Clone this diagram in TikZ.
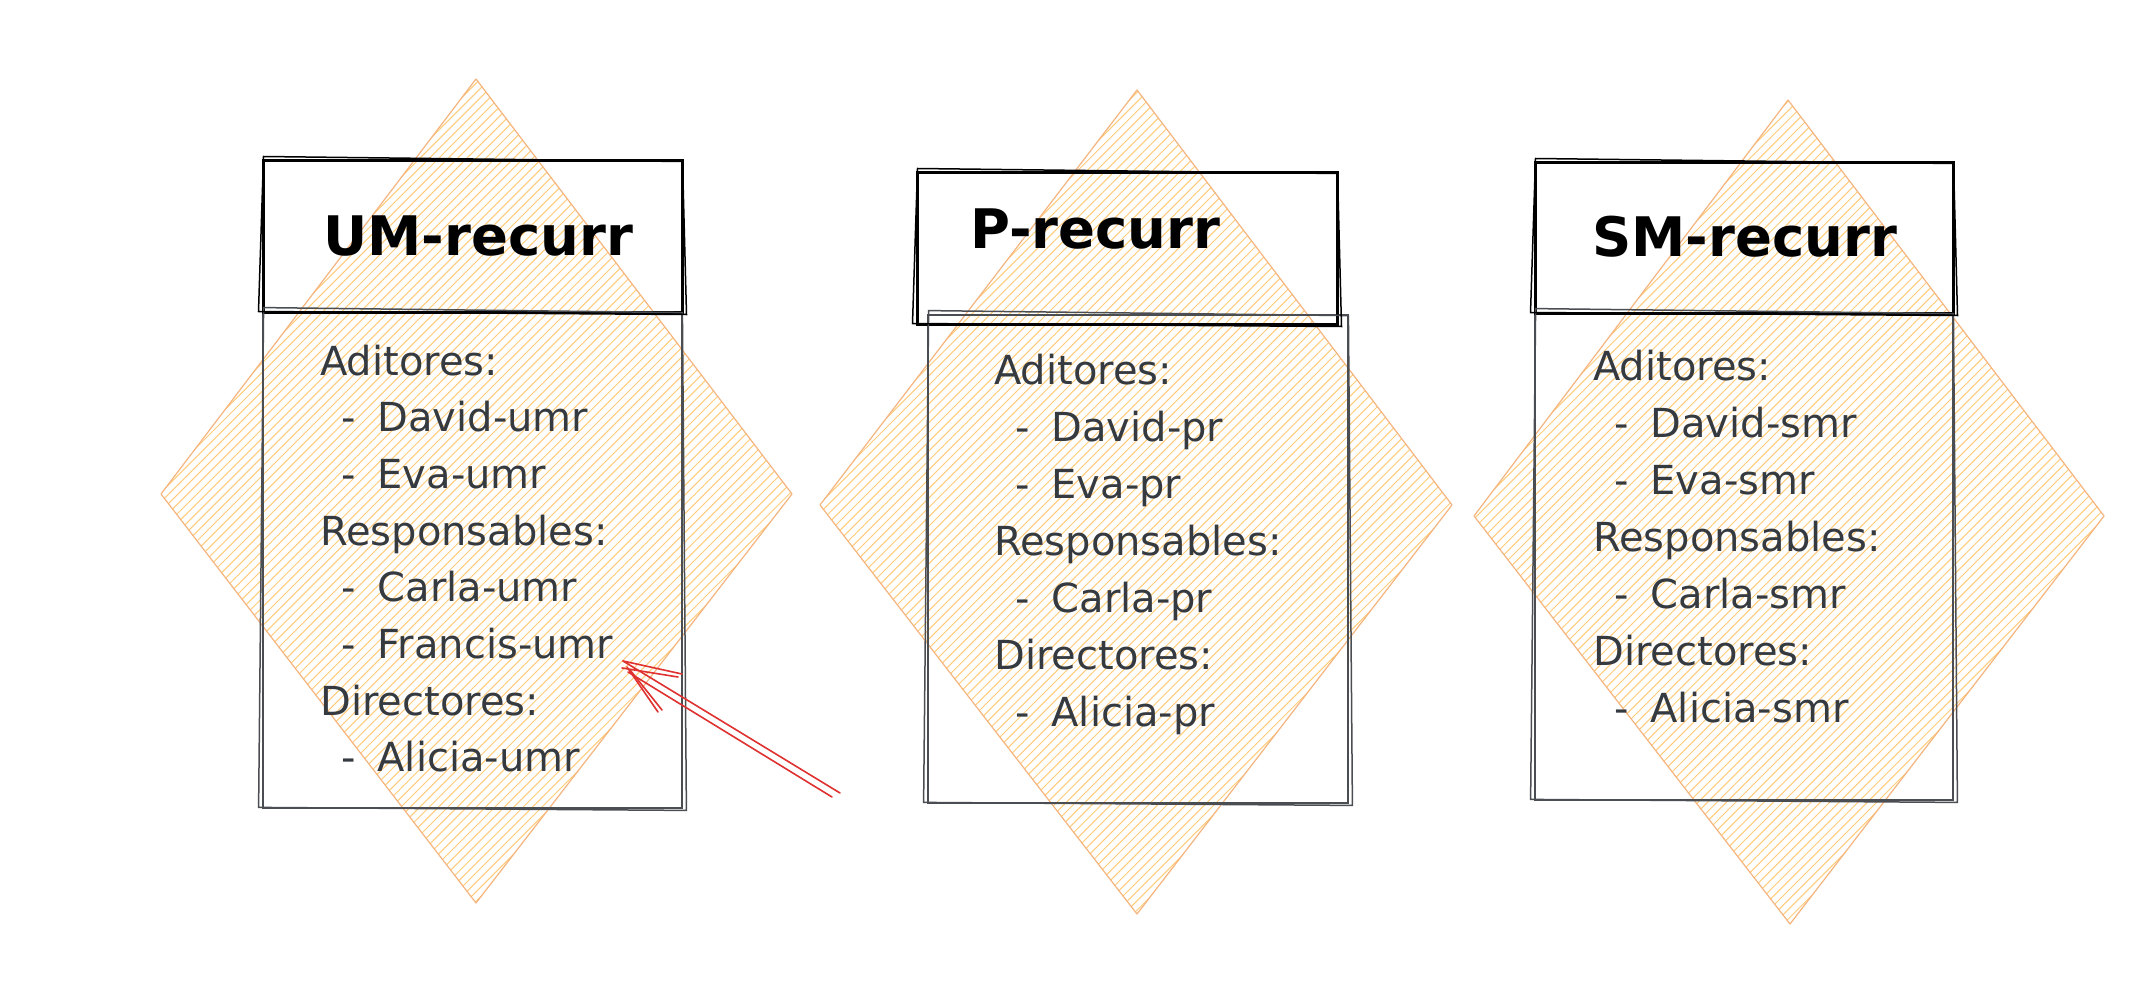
\documentclass[tikz,border=0pt]{standalone}
\usepackage{fontspec}
\setmainfont{DejaVu Sans}
\definecolor{hatch}{HTML}{FFCC7A}
\definecolor{dstroke}{HTML}{F5B57E}
\definecolor{boxgrey}{HTML}{4A4E52}
\definecolor{txtgrey}{HTML}{343A40}
\definecolor{arrowred}{HTML}{E03131}
\newcommand{\dd}{\hspace*{21pt}-\hspace*{22pt}}
\begin{document}
\begin{tikzpicture}[x=1pt,y=-1pt,
  titlebox/.style={draw=black, line width=3pt, inner sep=0pt},
  bodybox/.style={draw=boxgrey, line width=2.8pt, inner sep=0pt},
  sketchline/.style={line width=1.5pt, line cap=round},
  titletext/.style={font=\fontsize{54.5}{60}\selectfont\bfseries, text=black, anchor=base west, inner sep=0pt},
  bodytext/.style={font=\fontsize{40}{48}\selectfont, text=txtgrey, anchor=base west, inner sep=0pt},
  dline/.style={draw=dstroke, line width=1.2pt, line join=round},
  hatchline/.style={draw=hatch, line width=1.0pt},
  arrowline/.style={draw=arrowred, line width=1.6pt, line cap=round},
]
\useasboundingbox (0,0) rectangle (2140,1008);
\fill[white] (0,0) rectangle (2140,1008);

% ---------- hatched diamonds ----------
\begin{scope}
  \clip (476,79) -- (792,494) -- (476,903) -- (161,494) -- cycle;
  \foreach \k in {550,559.4,...,1390} \draw[hatchline] (\k,0) -- ({\k-1008},1008);
\end{scope}
\draw[dline] (476,79) -- (792,494) -- (476,903) -- (161,494) -- cycle;
\begin{scope}
  \clip (1137,90) -- (1452,505) -- (1137,914) -- (820,505) -- cycle;
  \foreach \k in {1220,1229.4,...,2060} \draw[hatchline] (\k,0) -- ({\k-1008},1008);
\end{scope}
\draw[dline] (1137,90) -- (1452,505) -- (1137,914) -- (820,505) -- cycle;
\begin{scope}
  \clip (1788,100) -- (2104,516) -- (1790,924) -- (1474,516) -- cycle;
  \foreach \k in {1880,1889.4,...,2725} \draw[hatchline] (\k,0) -- ({\k-1008},1008);
\end{scope}
\draw[dline] (1788,100) -- (2104,516) -- (1790,924) -- (1474,516) -- cycle;

% ---------- boxes ----------
\node[bodybox, minimum width=419pt, minimum height=496pt] (b1) at (472.5,560) {};
\node[titlebox, minimum width=419pt, minimum height=151pt] (t1) at (472.5,236.5) {};
\node[bodybox, minimum width=420pt, minimum height=488pt] (b2) at (1138,559) {};
\node[titlebox, minimum width=420pt, minimum height=151pt] (t2) at (1127,248.5) {};
\node[bodybox, minimum width=418pt, minimum height=487pt] (b3) at (1744,556.5) {};
\node[titlebox, minimum width=418pt, minimum height=150pt] (t3) at (1744,238) {};

% sketchy second strokes
\foreach \n/\c in {b1/boxgrey,b2/boxgrey,b3/boxgrey,t1/black,t2/black,t3/black}{
  \draw[sketchline, draw=\c]
    ([shift={(2,-3)}]\n.north west) -- ([shift={(-1,2)}]\n.north east)
    -- ([shift={(3,1)}]\n.south east) -- ([shift={(-3,-2)}]\n.south west) -- cycle;
}

% ---------- titles ----------
\node[titletext] (h1) at (323,255) {UM-recurr};
\node[titletext] (h2) at (970,248) {P-recurr};
\node[titletext] (h3) at (1592,257) {SM-recurr};

% ---------- body texts ----------
\foreach \txt [count=\i] in {Aditores:, \dd David-umr, \dd Eva-umr, Responsables:, \dd Carla-umr, \dd Francis-umr, Directores:, \dd Alicia-umr}
  \node[bodytext] (a\i) at (320,{375+56.7*(\i-1)}) {\txt};
\foreach \txt [count=\i] in {Aditores:, \dd David-pr, \dd Eva-pr, Responsables:, \dd Carla-pr, Directores:, \dd Alicia-pr}
  \node[bodytext] (p\i) at (994,{384+57*(\i-1)}) {\txt};
\foreach \txt [count=\i] in {Aditores:, \dd David-smr, \dd Eva-smr, Responsables:, \dd Carla-smr, Directores:, \dd Alicia-smr}
  \node[bodytext] (s\i) at (1593,{380+57*(\i-1)}) {\txt};

% ---------- red sketch arrow ----------
\coordinate (as) at (840,793);
\coordinate (at) at (623,661);
\draw[arrowline] (as) -- (at);
\draw[arrowline] ([shift={(-8,4)}]as) -- ([shift={(5,11)}]at);
\draw[arrowline] (at) -- ([shift={(59,13)}]at);
\draw[arrowline] ([shift={(-1,7)}]at) -- ([shift={(55,16)}]at);
\draw[arrowline] ([shift={(4,6)}]at) -- ([shift={(35,51)}]at);
\draw[arrowline] ([shift={(7,9)}]at) -- ([shift={(39,49)}]at);
\end{tikzpicture}
\end{document}
